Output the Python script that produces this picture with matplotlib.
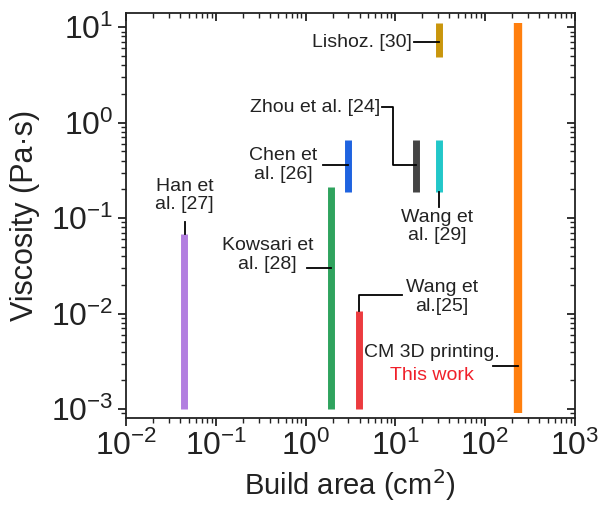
import matplotlib
matplotlib.use("Agg")
import matplotlib.pyplot as plt
from matplotlib.ticker import LogLocator, NullFormatter

plt.rcParams["font.family"] = ["Liberation Sans", "DejaVu Sans"]

# build area (cm2) and viscosity range (Pa s) of each work
works = ["Han [27]", "Kowsari [28]", "Wang [25]", "Chen [26]",
         "Zhou [24]", "Wang [29]", "Lishoz [30]", "This work"]
area = [0.044, 1.92, 3.9, 3.0, 17, 31, 31, 232]
visc_low = [1e-3, 1e-3, 1e-3, 0.19, 0.19, 0.19, 4.9, 9e-4]
visc_high = [0.068, 0.21, 0.0106, 0.66, 0.66, 0.66, 11, 11]
colors = ["#b27fe0", "#2fa35e", "#ec3b3f", "#1f63e0",
          "#444444", "#22c7c9", "#c9960c", "#ff7f0e"]
widths = [5, 5, 5, 5, 5, 5, 5, 6]

XLIM = (1e-2, 1e3)
YLIM = (8.05e-4, 14.0)
rect = [0.21, 0.177, 0.748, 0.797]
tc = "#222222"


def set_log_ticks(a):
    a.set_xscale("log")
    a.set_yscale("log")
    a.set_xlim(*XLIM)
    a.set_ylim(*YLIM)
    for axis in [a.xaxis, a.yaxis]:
        axis.set_major_locator(LogLocator(base=10, numticks=10))
        axis.set_minor_locator(LogLocator(base=10, subs=range(2, 10), numticks=10))
        axis.set_minor_formatter(NullFormatter())


fig = plt.figure(figsize=(6, 5.08), dpi=100)
ax = fig.add_axes(rect)

for x, lo, hi, c, w in zip(area, visc_low, visc_high, colors, widths):
    ax.plot([x, x], [lo, hi], color=c, linewidth=w, solid_capstyle="butt")

set_log_ticks(ax)

# leader lines
lk = dict(color="black", linewidth=1.3)
ax.plot([16.1, 31], [6.97, 6.97], **lk)
ax.plot([7.1, 9.4, 9.4, 17], [1.45, 1.45, 0.36, 0.36], **lk)
ax.plot([1.56, 3.0], [0.36, 0.36], **lk)
ax.plot([31, 31], [0.19, 0.13], **lk)
ax.plot([0.045, 0.045], [0.091, 0.068], **lk)
ax.plot([1.04, 1.92], [0.030, 0.030], **lk)
ax.plot([11.8, 3.9, 3.9], [0.0156, 0.0156, 0.0106], **lk)
ax.plot([122, 232], [0.00282, 0.00282], **lk)

fs = 14
ax.text(15.3, 6.97, "Lishoz. [30]", fontsize=fs, color=tc, ha="right", va="center")
ax.text(6.75, 1.45, "Zhou et al. [24]", fontsize=fs, color=tc, ha="right", va="center")
ax.text(0.56, 0.36, "Chen et\nal. [26]", fontsize=fs, color=tc, ha="center", va="center",
        linespacing=1.1)
ax.text(29, 0.125, "Wang et\nal. [29]", fontsize=fs, color=tc, ha="center", va="top",
        linespacing=1.1)
ax.text(0.045, 0.174, "Han et\nal. [27]", fontsize=fs, color=tc, ha="center", va="center",
        linespacing=1.1)
ax.text(0.38, 0.041, "Kowsari et\nal. [28]", fontsize=fs, color=tc, ha="center", va="center",
        linespacing=1.1)
ax.text(33, 0.0149, "Wang et\nal.[25]", fontsize=fs, color=tc, ha="center", va="center",
        linespacing=1.1)
ax.text(25.6, 0.00395, "CM 3D printing.", fontsize=fs, color=tc, ha="center", va="center")
ax.text(25.6, 0.00227, "This work", fontsize=fs, color="#f0202a", ha="center", va="center")

ax.set_xlabel("Build area (cm$^2$)", fontsize=21, color=tc, labelpad=4)
ax.set_ylabel("Viscosity (Pa·s)", fontsize=22, color=tc, labelpad=8)

ax.tick_params(axis="both", which="major", labelsize=23, length=6, width=1.3,
               colors=tc, pad=3, direction="out")
ax.tick_params(axis="both", which="minor", length=3.5, width=1.0, colors=tc,
               direction="out")
for side in ["top", "right", "bottom", "left"]:
    ax.spines[side].set_linewidth(1.3)
    ax.spines[side].set_color(tc)

# overlay axes only for the inward ticks on top and right
ax2 = fig.add_axes(rect, facecolor="none")
set_log_ticks(ax2)
ax2.tick_params(axis="both", which="both", direction="in", colors=tc,
                left=False, bottom=False, top=True, right=True,
                labelleft=False, labelbottom=False)
ax2.tick_params(axis="both", which="major", length=6, width=1.3)
ax2.tick_params(axis="both", which="minor", length=3.5, width=1.0)
for side in ax2.spines.values():
    side.set_visible(False)

plt.savefig("out.png", dpi=100)
